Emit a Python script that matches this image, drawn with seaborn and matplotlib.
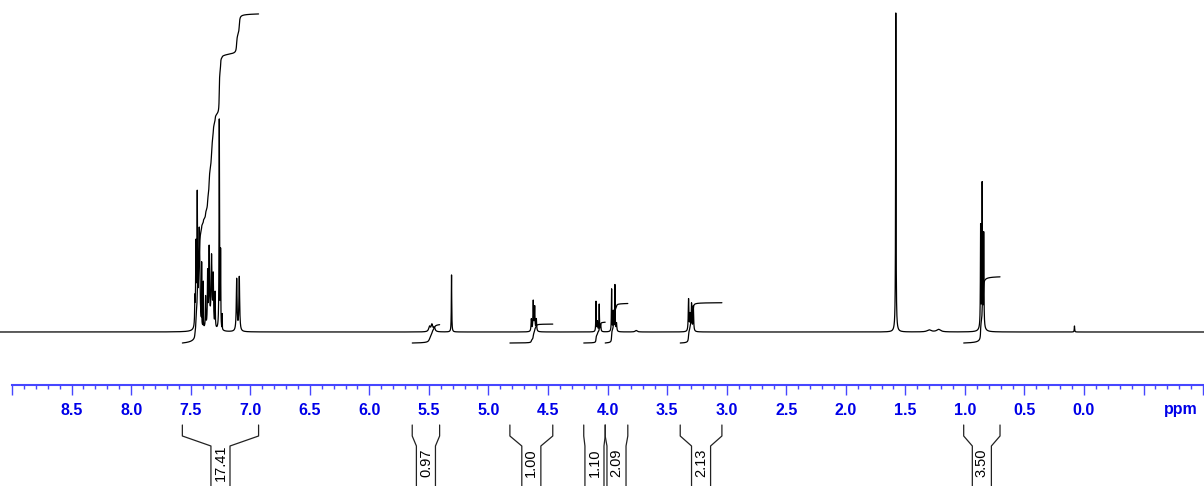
import numpy as np
import pandas as pd
import seaborn as sns
import matplotlib.pyplot as plt
from matplotlib.ticker import FixedLocator

# --- dane: lista sygnałów (ppm, wysokość, połowa szerokości) ---
peak_ppm = [7.465, 7.456, 7.445, 7.428, 7.408, 7.394, 7.375, 7.358, 7.345, 7.325,
            7.311, 7.295, 7.260, 7.249, 7.235, 7.114, 7.092,
            7.35,
            5.495, 5.475, 5.455, 5.310,
            4.640, 4.624, 4.612, 4.598,
            4.097, 4.085, 4.070, 4.058,
            3.966, 3.952, 3.938, 3.925, 3.760,
            3.320, 3.308, 3.295, 3.280,
            1.580, 1.580, 1.300, 1.220,
            0.868, 0.855, 0.842, 0.855, 0.080]
peak_height = [25, 80, 125, 100, 60, 45, 30, 50, 75, 70,
               50, 35, 210, 75, 15, 52, 54,
               6,
               5, 7, 4, 57,
               12, 30, 24, 12,
               30, 10, 27, 7,
               42, 20, 46, 8, 1.5,
               32, 16, 27, 25,
               315, 4, 2, 2.5,
               100, 138, 92, 8, 6]
peak_width = [0.002, 0.003, 0.0027, 0.0058, 0.0006, 0.0006, 0.002, 0.0022, 0.0035, 0.0045,
              0.0032, 0.002, 0.0022, 0.0017, 0.0006, 0.0038, 0.0038,
              0.02,
              0.008, 0.008, 0.008, 0.002,
              0.003, 0.003, 0.003, 0.003,
              0.002, 0.003, 0.002, 0.003,
              0.002, 0.003, 0.002, 0.003, 0.01,
              0.003, 0.003, 0.003, 0.003,
              0.002, 0.01, 0.02, 0.02,
              0.002, 0.002, 0.002, 0.015, 0.002]

# --- całki: zakres (ppm) i wartość ---
integral_start = [7.57, 5.64, 4.82, 4.20, 4.02, 3.39, 1.01]
integral_end = [6.93, 5.41, 4.46, 4.02, 3.83, 3.04, 0.705]
integral_value = [17.41, 0.97, 1.00, 1.10, 2.09, 2.13, 3.50]
integral_labels = ["17.41", "0.97", "1.00", "1.10", "2.09", "2.13", "3.50"]

# --- widmo ---
ppm = np.arange(9.101, -1.0076, -0.00025)
intensity = np.zeros_like(ppm)
for p0, h, w in zip(peak_ppm, peak_height, peak_width):
    intensity += h / (1 + ((ppm - p0) / w) ** 2)
spectrum = pd.DataFrame({"ppm": ppm, "intensity": intensity})

sns.set_style("white")
plt.rcParams["font.family"] = ["Liberation Sans", "DejaVu Sans"]

fig = plt.figure(figsize=(12.04, 4.86), dpi=100)
ax = fig.add_axes([0, 0, 1, 1])
ax.set_xlim(9.101, -1.0076)
ax.set_ylim(-154, 332)
ax.axis("off")

sns.lineplot(data=spectrum, x="ppm", y="intensity", color="black", lw=0.9,
             estimator=None, sort=False, ax=ax)

# krzywe całkowania + klamry pod osią
px = 18.9       # wysokość krzywej na jednostkę całki
hw = 0.08       # pół szerokości ramki z liczbą
for start, end, value, label in zip(integral_start, integral_end, integral_value, integral_labels):
    mask = (ppm <= start) & (ppm >= end)
    cum = np.cumsum(intensity[mask])
    curve = cum / cum[-1] * value * px - 11
    sns.lineplot(x=ppm[mask], y=curve, color="black", lw=0.9,
                 estimator=None, sort=False, ax=ax)

    c = (start + end) / 2
    left_in = min(start, c + hw)
    right_in = max(end, c - hw)
    ax.plot([start, start, left_in, left_in], [-93, -104, -114, -160],
            color="#222222", lw=0.9, clip_on=False)
    ax.plot([end, end, right_in, right_in], [-93, -104, -114, -160],
            color="#222222", lw=0.9, clip_on=False)
    ax.text(c, -131, label, rotation=90, ha="center", va="center",
            fontsize=10.5, color="black")

# --- oś ppm ---
blue = "#0000e8"
axr = fig.add_axes([0, (486 - 385) / 486, 1, 0.001])
axr.set_xlim(9.101, -1.0076)
axr.set_yticks([])
for s in ["top", "left", "right"]:
    axr.spines[s].set_visible(False)
axr.spines["bottom"].set_color("#4646ff")
axr.spines["bottom"].set_linewidth(1.5)
axr.spines["bottom"].set_bounds(-1.0, 9.0)
axr.patch.set_alpha(0)

major = np.arange(-1.0, 9.01, 0.5)
axr.set_xticks(major)
axr.set_xticklabels([f"{m:.1f}" if 0 <= m <= 8.5 else "" for m in major])
axr.xaxis.set_minor_locator(FixedLocator(np.arange(-1.0, 9.001, 0.1)))
axr.tick_params(axis="x", which="both", bottom=True, top=False)
axr.tick_params(axis="x", which="major", direction="out", length=7.5, width=1,
                color="#4646ff", labelcolor=blue, labelsize=11.5, pad=5.5)
axr.tick_params(axis="x", which="minor", direction="out", length=3, width=1,
                color="#4646ff")
for t in axr.get_xticklabels():
    t.set_fontweight("bold")

fig.text(1181 / 1204, 1 - 409 / 486, "ppm", color=blue, fontsize=11.5,
         fontweight="bold", ha="center", va="center")

plt.savefig("out.png", dpi=100)
